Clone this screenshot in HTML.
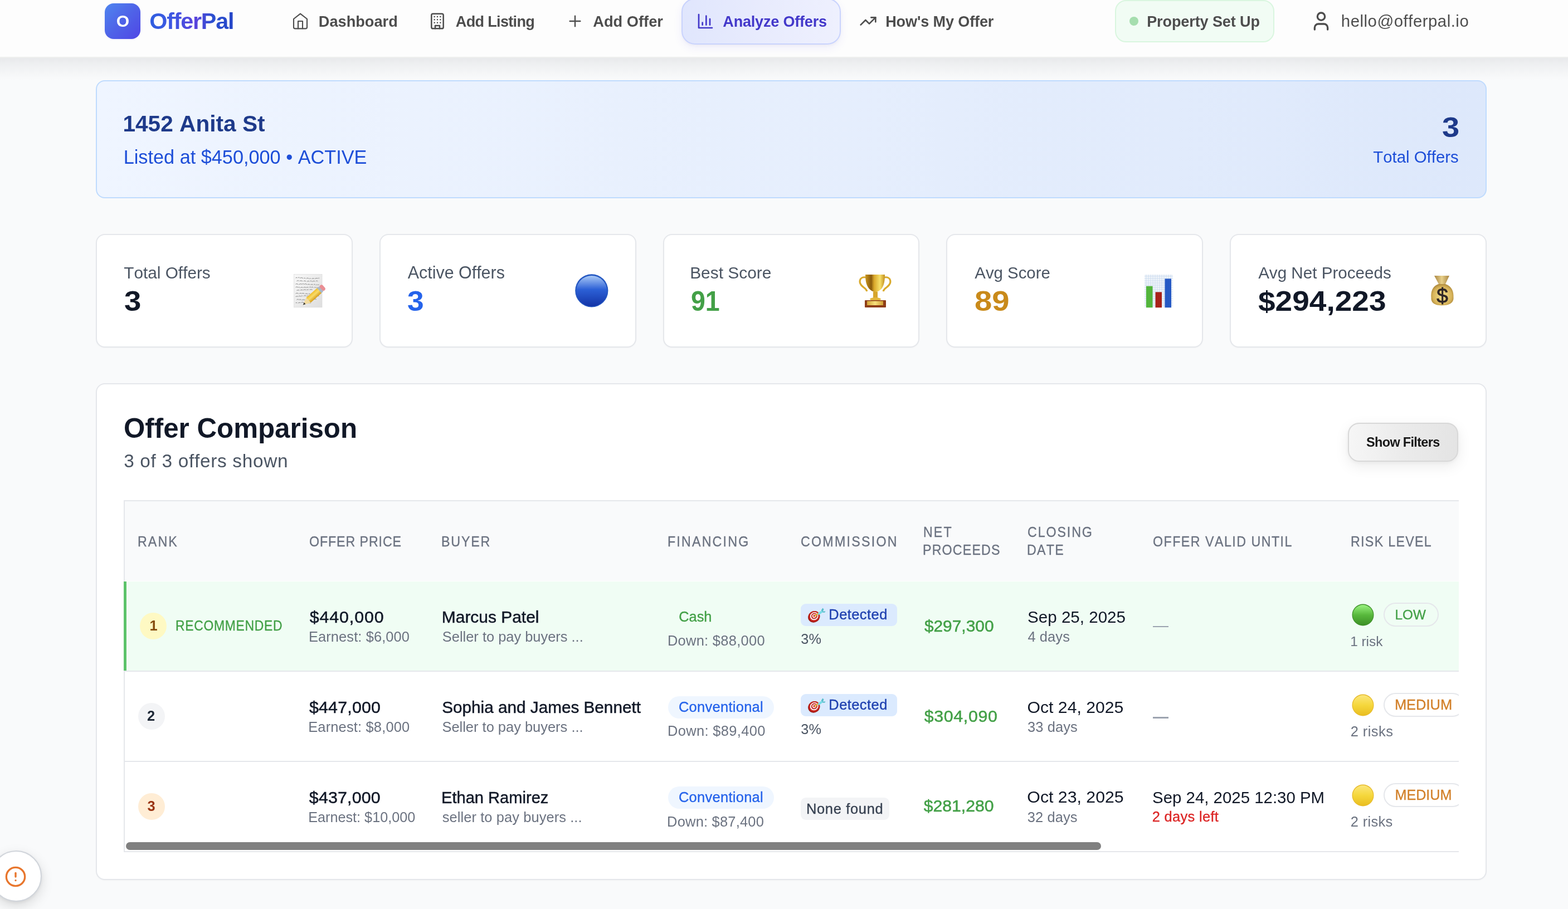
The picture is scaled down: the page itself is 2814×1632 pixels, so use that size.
<!DOCTYPE html><html><head><meta charset="utf-8"><title>OfferPal - Analyze Offers</title><style>
*{margin:0;padding:0;box-sizing:border-box}
html,body{width:2814px;height:1632px;overflow:hidden;background:#f9fafb}
body{position:relative;font-family:"Liberation Sans",Arial,sans-serif;font-kerning:none;-webkit-font-smoothing:antialiased}
.a{position:absolute}
.t{position:absolute;white-space:nowrap;font-family:"Liberation Sans",Arial,sans-serif}
svg{position:absolute;overflow:visible}
@media (max-width:2000px){html{zoom:0.5}}
</style></head><body><div class="a" style="left:0;top:104px;width:2814px;height:42px;background:linear-gradient(180deg,rgba(17,24,39,0.075) 0px,rgba(17,24,39,0.048) 11px,rgba(17,24,39,0.03) 20px,rgba(17,24,39,0.016) 29px,rgba(17,24,39,0.005) 36px,rgba(17,24,39,0) 42px)"></div>
<div class="a" style="left:0;top:0;width:2814px;height:104px;background:#fdfdfd;border-bottom:2px solid #eeefee"></div>
<div class="a" style="left:188px;top:6px;width:64px;height:64px;border-radius:16px;background:linear-gradient(135deg,#4f86ef 0%,#4f63e8 50%,#4f46e5 100%);box-shadow:0 1px 3px rgba(79,70,229,0.10)"></div>
<div id="logoO" class="t" style="left:208.77px;top:21.30px;font-size:30px;line-height:33px;font-weight:700;color:#ffffff;letter-spacing:0.000px;">O</div>
<div id="brand" class="t" style="left:268.31px;top:14.80px;font-size:41.32px;line-height:46px;font-weight:700;color:#2f5fe0;letter-spacing:-1.231px;background:linear-gradient(90deg,#2f5fe0 0%,#3f55e2 30%,#5a43dc 55%,#2b4fd0 75%,#2546c8 100%);-webkit-background-clip:text;background-clip:text;-webkit-text-fill-color:transparent;">OfferPal</div>
<div class="a" style="left:1223px;top:-3px;width:286px;height:83px;border-radius:24px;border:2px solid #c9d3fd;background:linear-gradient(90deg,#e0e6fd 0%,#e8ebfd 50%,#eef0fe 100%);box-shadow:0 6px 16px rgba(79,70,229,0.08),0 2px 4px rgba(0,0,0,0.03)"></div>
<div class="a" style="left:2001px;top:0px;width:286px;height:76px;border-radius:20px;border:2px solid #d9f6df;background:#f1fcf4"></div>
<div class="a" style="left:2027px;top:30px;width:16px;height:16px;border-radius:50%;background:#a5deae"></div>
<div id="nav1" class="t" style="left:571.78px;top:22.80px;font-size:27.19px;line-height:31px;font-weight:700;color:#4d4d4d;letter-spacing:-0.001px;">Dashboard</div>
<div id="nav2" class="t" style="left:817.83px;top:22.80px;font-size:27.07px;line-height:31px;font-weight:700;color:#4d4d4d;letter-spacing:-0.687px;">Add Listing</div>
<div id="nav3" class="t" style="left:1064.32px;top:22.80px;font-size:27.24px;line-height:31px;font-weight:700;color:#4d4d4d;letter-spacing:-0.001px;">Add Offer</div>
<div id="nav4" class="t" style="left:1297.33px;top:22.80px;font-size:27.07px;line-height:31px;font-weight:700;color:#4338ca;letter-spacing:-0.213px;">Analyze Offers</div>
<div id="nav5" class="t" style="left:1589.19px;top:22.80px;font-size:27.07px;line-height:31px;font-weight:700;color:#4d4d4d;letter-spacing:-0.133px;">How's My Offer</div>
<div id="nav6" class="t" style="left:2058.19px;top:23.00px;font-size:27.07px;line-height:31px;font-weight:700;color:#4d4d4d;letter-spacing:-0.118px;">Property Set Up</div>
<div id="email" class="t" style="left:2406.86px;top:20.70px;font-size:29.36px;line-height:33px;font-weight:400;color:#4d4d4d;letter-spacing:0.506px;">hello@offerpal.io</div>
<svg style="left:523.1px;top:21.8px" width="32" height="32" viewBox="0 0 24 24" fill="none" stroke-linecap="round" stroke-linejoin="round" stroke="#4d4d4d" stroke-width="1.6"><path d="m3 9 9-7 9 7v11a2 2 0 0 1-2 2H5a2 2 0 0 1-2-2z"/><polyline points="9 22 9 12 15 12 15 22"/></svg>
<svg style="left:769px;top:21.5px" width="32" height="32" viewBox="0 0 24 24" fill="none" stroke-linecap="round" stroke-linejoin="round" stroke="#4d4d4d" stroke-width="1.9"><rect x="4" y="2" width="16" height="20" rx="2" ry="2"/><path d="M9 22v-4h6v4"/><path d="M8 6h.01M16 6h.01M12 6h.01M12 10h.01M12 14h.01M16 10h.01M16 14h.01M8 10h.01M8 14h.01"/></svg>
<svg style="left:1015.7px;top:22px" width="32" height="32" viewBox="0 0 24 24" fill="none" stroke-linecap="round" stroke-linejoin="round" stroke="#4d4d4d" stroke-width="1.8"><path d="M5 12h14"/><path d="M12 5v14"/></svg>
<svg style="left:1249.8px;top:21.8px" width="32" height="32" viewBox="0 0 24 24" fill="none" stroke-linecap="round" stroke-linejoin="round" stroke="#4338ca" stroke-width="2"><path d="M3 3v18h18"/><path d="M18 17V9"/><path d="M13 17V5"/><path d="M8 17v-3"/></svg>
<svg style="left:1541.7px;top:22px" width="32" height="32" viewBox="0 0 24 24" fill="none" stroke-linecap="round" stroke-linejoin="round" stroke="#4d4d4d" stroke-width="2"><polyline points="22 7 13.5 15.5 8.5 10.5 2 17"/><polyline points="16 7 22 7 22 13"/></svg>
<svg style="left:2351.3px;top:17.7px" width="40" height="40" viewBox="0 0 24 24" fill="none" stroke-linecap="round" stroke-linejoin="round" stroke="#4d4d4d" stroke-width="2"><path d="M19 21v-2a4 4 0 0 0-4-4H9a4 4 0 0 0-4 4v2"/><circle cx="12" cy="7" r="4"/></svg>
<div class="a" style="left:172px;top:144px;width:2496px;height:212px;border-radius:16px;border:2px solid #bfdbfe;background:linear-gradient(90deg,#eff5ff 0%,#dde8fb 100%)"></div>
<div id="addr" class="t" style="left:220.44px;top:199.00px;font-size:40.61px;line-height:46px;font-weight:700;color:#1e3a8a;letter-spacing:0.001px;">1452 Anita St</div>
<div id="listed" class="t" style="left:221.69px;top:263.00px;font-size:34.27px;line-height:38px;font-weight:400;color:#1d4ed8;letter-spacing:-0.002px;">Listed at $450,000 • ACTIVE</div>
<div id="pc3" class="t" style="left:2587.51px;top:200.30px;font-size:50.4px;line-height:57px;font-weight:700;color:#1e3a8a;letter-spacing:0.000px;transform:scaleX(1.1137);transform-origin:0px 0;">3</div>
<div id="pcTot" class="t" style="left:2464.34px;top:265.40px;font-size:29.37px;line-height:33px;font-weight:400;color:#1d4ed8;letter-spacing:0.000px;">Total Offers</div>
<div class="a" style="left:172px;top:420px;width:461px;height:204px;border-radius:16px;border:2px solid #e5e7eb;background:#fff;box-shadow:0 1px 2px rgba(0,0,0,0.03)"></div>
<div id="sl0" class="t" style="left:222.33px;top:473.00px;font-size:29.76px;line-height:33px;font-weight:400;color:#4b5563;letter-spacing:-0.001px;">Total Offers</div>
<div id="sv0" class="t" style="left:222.65px;top:512.00px;font-size:50.7px;line-height:57px;font-weight:700;color:#111827;letter-spacing:0.000px;transform:scaleX(1.0753);transform-origin:0px 0;">3</div>
<div class="a" style="left:681px;top:420px;width:461px;height:204px;border-radius:16px;border:2px solid #e5e7eb;background:#fff;box-shadow:0 1px 2px rgba(0,0,0,0.03)"></div>
<div id="sl1" class="t" style="left:731.74px;top:472.00px;font-size:30.43px;line-height:34px;font-weight:400;color:#4b5563;letter-spacing:-0.001px;">Active Offers</div>
<div id="sv1" class="t" style="left:731.48px;top:512.00px;font-size:50.7px;line-height:57px;font-weight:700;color:#2563eb;letter-spacing:0.000px;transform:scaleX(1.0515);transform-origin:0px 0;">3</div>
<div class="a" style="left:1190px;top:420px;width:460px;height:204px;border-radius:16px;border:2px solid #e5e7eb;background:#fff;box-shadow:0 1px 2px rgba(0,0,0,0.03)"></div>
<div id="sl2" class="t" style="left:1238.14px;top:473.00px;font-size:29.93px;line-height:33px;font-weight:400;color:#4b5563;letter-spacing:-0.001px;">Best Score</div>
<div id="sv2" class="t" style="left:1239.89px;top:512.00px;font-size:50.7px;line-height:57px;font-weight:700;color:#43a047;letter-spacing:0.000px;transform:scaleX(0.9169);transform-origin:0px 0;">91</div>
<div class="a" style="left:1698px;top:420px;width:461px;height:204px;border-radius:16px;border:2px solid #e5e7eb;background:#fff;box-shadow:0 1px 2px rgba(0,0,0,0.03)"></div>
<div id="sl3" class="t" style="left:1749.34px;top:473.00px;font-size:29.39px;line-height:33px;font-weight:400;color:#4b5563;letter-spacing:-0.003px;">Avg Score</div>
<div id="sv3" class="t" style="left:1748.51px;top:512.00px;font-size:50.7px;line-height:57px;font-weight:700;color:#c98a1a;letter-spacing:0.000px;transform:scaleX(1.1096);transform-origin:0px 0;">89</div>
<div class="a" style="left:2207px;top:420px;width:461px;height:204px;border-radius:16px;border:2px solid #e5e7eb;background:#fff;box-shadow:0 1px 2px rgba(0,0,0,0.03)"></div>
<div id="sl4" class="t" style="left:2258.14px;top:473.00px;font-size:29.61px;line-height:33px;font-weight:400;color:#4b5563;letter-spacing:-0.001px;">Avg Net Proceeds</div>
<div id="sv4" class="t" style="left:2258.37px;top:512.00px;font-size:50.7px;line-height:57px;font-weight:700;color:#111827;letter-spacing:0.000px;transform:scaleX(1.0858);transform-origin:0px 0;">$294,223</div>
<div class="a" style="left:172px;top:688px;width:2496px;height:892px;border-radius:16px;border:2px solid #e5e7eb;background:#fff;box-shadow:0 1px 2px rgba(0,0,0,0.03)"></div>
<div id="ocTitle" class="t" style="left:221.98px;top:741.00px;font-size:49.3px;line-height:55px;font-weight:700;color:#111827;letter-spacing:-0.001px;">Offer Comparison</div>
<div id="ocSub" class="t" style="left:222.13px;top:808.60px;font-size:33.37px;line-height:37px;font-weight:400;color:#4b5563;letter-spacing:0.699px;">3 of 3 offers shown</div>
<div class="a" style="left:2419px;top:759px;width:198px;height:70px;border-radius:20px;border:2px solid #d8d8d8;background:linear-gradient(90deg,#f6f6f6 0%,#ebebeb 50%,#e4e4e4 100%);box-shadow:0 8px 26px rgba(0,0,0,0.08),0 2px 6px rgba(0,0,0,0.04)"></div>
<div id="sf" class="t" style="left:2452.12px;top:781.20px;font-size:23.46px;line-height:26px;font-weight:700;color:#171717;letter-spacing:-0.667px;">Show Filters</div>
<div class="a" style="left:222px;top:898px;width:2396px;height:632px;overflow:hidden">
<div class="a" style="left:0px;top:0px;width:2600px;height:2px;background:#e5e7eb"></div>
<div class="a" style="left:0px;top:0px;width:2px;height:632px;background:#e5e7eb"></div>
<div class="a" style="left:2px;top:2px;width:2600px;height:143px;background:#f9fafb"></div>
<div class="a" style="left:6px;top:146px;width:2600px;height:160px;background:#f0fdf4"></div>
<div class="a" style="left:0px;top:146px;width:5px;height:160px;background:#5cc36a"></div>
<div class="a" style="left:2px;top:306px;width:2600px;height:2px;background:#e5e7eb"></div>
<div class="a" style="left:2px;top:468px;width:2600px;height:2px;background:#e5e7eb"></div>
<div class="a" style="left:2px;top:630px;width:2600px;height:2px;background:#e5e7eb"></div>
<div id="h1" class="t" style="left:25.30px;top:59.60px;font-size:25.8px;line-height:28px;font-weight:400;color:#6b7280;letter-spacing:2.316px;-webkit-text-stroke:0.35px currentColor;transform:scaleX(0.9);transform-origin:0 0;">RANK</div>
<div id="h2" class="t" style="left:332.50px;top:59.60px;font-size:25.8px;line-height:28px;font-weight:400;color:#6b7280;letter-spacing:1.000px;-webkit-text-stroke:0.35px currentColor;transform:scaleX(0.9);transform-origin:0 0;">OFFER PRICE</div>
<div id="h3" class="t" style="left:570.00px;top:59.60px;font-size:25.8px;line-height:28px;font-weight:400;color:#6b7280;letter-spacing:2.050px;-webkit-text-stroke:0.35px currentColor;transform:scaleX(0.9);transform-origin:0 0;">BUYER</div>
<div id="h4" class="t" style="left:975.50px;top:59.60px;font-size:25.8px;line-height:28px;font-weight:400;color:#6b7280;letter-spacing:2.435px;-webkit-text-stroke:0.35px currentColor;transform:scaleX(0.9);transform-origin:0 0;">FINANCING</div>
<div id="h5" class="t" style="left:1215.12px;top:59.60px;font-size:25.8px;line-height:28px;font-weight:400;color:#6b7280;letter-spacing:2.512px;-webkit-text-stroke:0.35px currentColor;transform:scaleX(0.9);transform-origin:0 0;">COMMISSION</div>
<div id="h6a" class="t" style="left:1435.00px;top:43.20px;font-size:25.8px;line-height:28px;font-weight:400;color:#6b7280;letter-spacing:2.332px;-webkit-text-stroke:0.35px currentColor;transform:scaleX(0.9);transform-origin:0 0;">NET</div>
<div id="h6b" class="t" style="left:1434.40px;top:74.80px;font-size:25.8px;line-height:28px;font-weight:400;color:#6b7280;letter-spacing:1.310px;-webkit-text-stroke:0.35px currentColor;transform:scaleX(0.9);transform-origin:0 0;">PROCEEDS</div>
<div id="h7a" class="t" style="left:1621.82px;top:43.20px;font-size:25.8px;line-height:28px;font-weight:400;color:#6b7280;letter-spacing:2.111px;-webkit-text-stroke:0.35px currentColor;transform:scaleX(0.9);transform-origin:0 0;">CLOSING</div>
<div id="h7b" class="t" style="left:1621.20px;top:74.80px;font-size:25.8px;line-height:28px;font-weight:400;color:#6b7280;letter-spacing:1.398px;-webkit-text-stroke:0.35px currentColor;transform:scaleX(0.9);transform-origin:0 0;">DATE</div>
<div id="h8" class="t" style="left:1846.60px;top:59.60px;font-size:25.8px;line-height:28px;font-weight:400;color:#6b7280;letter-spacing:1.645px;-webkit-text-stroke:0.35px currentColor;transform:scaleX(0.9);transform-origin:0 0;">OFFER VALID UNTIL</div>
<div id="h9" class="t" style="left:2202.10px;top:59.60px;font-size:25.8px;line-height:28px;font-weight:400;color:#6b7280;letter-spacing:1.462px;-webkit-text-stroke:0.35px currentColor;transform:scaleX(0.9);transform-origin:0 0;">RISK LEVEL</div>
<div class="a" style="left:29px;top:202px;width:48px;height:48px;border-radius:50%;background:#fef9c3"></div>
<div id="r0rk" class="t" style="left:46.60px;top:211.00px;font-size:25.4px;line-height:28px;font-weight:700;color:#854d0e;letter-spacing:0.000px;">1</div>
<div id="r0rec" class="t" style="left:92.62px;top:211.00px;font-size:25.4px;line-height:28px;font-weight:400;color:#43a047;letter-spacing:0.813px;-webkit-text-stroke:0.35px currentColor;transform:scaleX(0.9);transform-origin:0 0;">RECOMMENDED</div>
<div id="r0p" class="t" style="left:333.77px;top:191.80px;font-size:30.39px;line-height:34px;font-weight:400;color:#111827;letter-spacing:0.880px;-webkit-text-stroke:0.5px currentColor;">$440,000</div>
<div id="r0e" class="t" style="left:331.91px;top:230.80px;font-size:25.44px;line-height:28px;font-weight:400;color:#6b7280;letter-spacing:0.104px;">Earnest: $6,000</div>
<div id="r0n" class="t" style="left:570.84px;top:192.80px;font-size:29.93px;line-height:33px;font-weight:400;color:#111827;letter-spacing:0.000px;-webkit-text-stroke:0.5px currentColor;">Marcus Patel</div>
<div id="r0no" class="t" style="left:571.85px;top:230.80px;font-size:25.43px;line-height:28px;font-weight:400;color:#6b7280;letter-spacing:-0.001px;">Seller to pay buyers ...</div>
<div id="r0f" class="t" style="left:996.31px;top:194.60px;font-size:25.33px;line-height:28px;font-weight:400;color:#43a047;letter-spacing:-0.000px;-webkit-text-stroke:0.35px currentColor;">Cash</div>
<div id="r0d" class="t" style="left:975.91px;top:238.40px;font-size:25.44px;line-height:28px;font-weight:400;color:#6b7280;letter-spacing:0.295px;">Down: $88,000</div>
<div class="a" style="left:1215px;top:186px;width:173px;height:40px;border-radius:9px;background:#dbeafe"></div>
<svg style="left:1227.0px;top:192.0px" width="34" height="30" viewBox="0 0 34 30"><g transform="rotate(-35 11.8 17.3)"><ellipse cx="11.8" cy="17.3" rx="11" ry="10" fill="#9c1712"/><ellipse cx="12.6" cy="16.8" rx="10" ry="9.2" fill="#c9261f"/><ellipse cx="12.8" cy="16.6" rx="7.6" ry="7" fill="#f5efee"/><ellipse cx="13" cy="16.5" rx="5.6" ry="5.2" fill="#c8261f"/><ellipse cx="13.1" cy="16.4" rx="3.6" ry="3.3" fill="#f6f1f0"/><ellipse cx="13.2" cy="16.3" rx="1.9" ry="1.8" fill="#c21f18"/></g><path d="M13.5 16 L19.5 11.5" stroke="#e4b23a" stroke-width="2.2" stroke-linecap="round"/><path d="M18.5 12.5 C20 9 23 7.5 26 6.5 L27.5 8.5 C26 11 23 13 20 14 Z" fill="#79dde8"/><path d="M24.5 6 L27.5 1.5 L29.5 4 L27.5 8 Z" fill="#56bdc9"/><path d="M26.5 7.5 L32.5 7.5 L31 9.8 L27 9.5 Z" fill="#56bdc9"/></svg>
<div id="r0det" class="t" style="left:1265.31px;top:191.00px;font-size:25.44px;line-height:28px;font-weight:400;color:#1e40af;letter-spacing:0.458px;-webkit-text-stroke:0.35px currentColor;">Detected</div>
<div id="r0pct" class="t" style="left:1215.34px;top:234.80px;font-size:25.3px;line-height:28px;font-weight:400;color:#4b5563;letter-spacing:-0.001px;">3%</div>
<div id="r0net" class="t" style="left:1436.88px;top:208.90px;font-size:29.89px;line-height:33px;font-weight:400;color:#43a047;letter-spacing:0.003px;-webkit-text-stroke:0.5px currentColor;">$297,300</div>
<div id="r0dt" class="t" style="left:1622.06px;top:192.80px;font-size:29.58px;line-height:33px;font-weight:400;color:#111827;letter-spacing:-0.001px;">Sep 25, 2025</div>
<div id="r0dy" class="t" style="left:1622.42px;top:231.00px;font-size:25.44px;line-height:28px;font-weight:400;color:#6b7280;letter-spacing:0.110px;">4 days</div>
<div class="a" style="left:1846.6px;top:225.79999999999995px;width:28px;height:2.5px;background:#9ca3af"></div>
<svg style="left:2204.0px;top:186.0px" width="40" height="40" viewBox="0 0 40 40"><defs><linearGradient id="g1" x1="0" y1="0" x2="0" y2="1"><stop offset="0" stop-color="#98f27f"/><stop offset="0.5" stop-color="#58b83c"/><stop offset="1" stop-color="#3c8f26"/></linearGradient></defs><circle cx="20" cy="20" r="19.5" fill="#3f8f2a"/><circle cx="20" cy="20.3" r="18.3" fill="url(#g1)"/></svg>
<div class="a" style="left:2261.3px;top:184.20000000000005px;width:98.39999999999964px;height:43.299999999999955px;border-radius:22px;border:2px solid #e5e7eb"></div>
<div id="r0rl" class="t" style="left:2281.61px;top:192.20px;font-size:24.22px;line-height:27px;font-weight:400;color:#43a047;letter-spacing:0.000px;-webkit-text-stroke:0.35px currentColor;">LOW</div>
<div id="r0nr" class="t" style="left:2201.14px;top:239.70px;font-size:24.41px;line-height:27px;font-weight:400;color:#6b7280;letter-spacing:0.001px;">1 risk</div>
<div class="a" style="left:26px;top:364px;width:48px;height:48px;border-radius:50%;background:#f3f4f6"></div>
<div id="r1rk" class="t" style="left:42.12px;top:372.90px;font-size:25.4px;line-height:28px;font-weight:700;color:#1f2937;letter-spacing:0.000px;">2</div>
<div id="r1p" class="t" style="left:332.97px;top:354.40px;font-size:30.39px;line-height:34px;font-weight:400;color:#111827;letter-spacing:0.180px;-webkit-text-stroke:0.5px currentColor;">$447,000</div>
<div id="r1e" class="t" style="left:331.21px;top:392.60px;font-size:25.44px;line-height:28px;font-weight:400;color:#6b7280;letter-spacing:0.169px;">Earnest: $8,000</div>
<div id="r1n" class="t" style="left:571.25px;top:355.00px;font-size:29.71px;line-height:33px;font-weight:400;color:#111827;letter-spacing:0.000px;-webkit-text-stroke:0.5px currentColor;">Sophia and James Bennett</div>
<div id="r1no" class="t" style="left:571.44px;top:392.80px;font-size:25.44px;line-height:28px;font-weight:400;color:#6b7280;letter-spacing:0.003px;">Seller to pay buyers ...</div>
<div class="a" style="left:977px;top:352px;width:190px;height:40px;border-radius:20px;background:#eff6ff"></div>
<div id="r1f" class="t" style="left:995.91px;top:357.40px;font-size:25.44px;line-height:28px;font-weight:400;color:#2563eb;letter-spacing:0.299px;-webkit-text-stroke:0.35px currentColor;">Conventional</div>
<div id="r1d" class="t" style="left:975.91px;top:400.30px;font-size:25.44px;line-height:28px;font-weight:400;color:#6b7280;letter-spacing:0.370px;">Down: $89,400</div>
<div class="a" style="left:1215px;top:348px;width:173px;height:40px;border-radius:9px;background:#dbeafe"></div>
<svg style="left:1227.0px;top:354.0px" width="34" height="30" viewBox="0 0 34 30"><g transform="rotate(-35 11.8 17.3)"><ellipse cx="11.8" cy="17.3" rx="11" ry="10" fill="#9c1712"/><ellipse cx="12.6" cy="16.8" rx="10" ry="9.2" fill="#c9261f"/><ellipse cx="12.8" cy="16.6" rx="7.6" ry="7" fill="#f5efee"/><ellipse cx="13" cy="16.5" rx="5.6" ry="5.2" fill="#c8261f"/><ellipse cx="13.1" cy="16.4" rx="3.6" ry="3.3" fill="#f6f1f0"/><ellipse cx="13.2" cy="16.3" rx="1.9" ry="1.8" fill="#c21f18"/></g><path d="M13.5 16 L19.5 11.5" stroke="#e4b23a" stroke-width="2.2" stroke-linecap="round"/><path d="M18.5 12.5 C20 9 23 7.5 26 6.5 L27.5 8.5 C26 11 23 13 20 14 Z" fill="#79dde8"/><path d="M24.5 6 L27.5 1.5 L29.5 4 L27.5 8 Z" fill="#56bdc9"/><path d="M26.5 7.5 L32.5 7.5 L31 9.8 L27 9.5 Z" fill="#56bdc9"/></svg>
<div id="r1det" class="t" style="left:1265.31px;top:353.00px;font-size:25.44px;line-height:28px;font-weight:400;color:#1e40af;letter-spacing:0.458px;-webkit-text-stroke:0.35px currentColor;">Detected</div>
<div id="r1pct" class="t" style="left:1215.34px;top:397.00px;font-size:25.3px;line-height:28px;font-weight:400;color:#4b5563;letter-spacing:-0.001px;">3%</div>
<div id="r1net" class="t" style="left:1436.67px;top:369.70px;font-size:30.39px;line-height:34px;font-weight:400;color:#43a047;letter-spacing:0.651px;-webkit-text-stroke:0.5px currentColor;">$304,090</div>
<div id="r1dt" class="t" style="left:1621.57px;top:354.70px;font-size:30.16px;line-height:33px;font-weight:400;color:#111827;letter-spacing:-0.000px;">Oct 24, 2025</div>
<div id="r1dy" class="t" style="left:1622.03px;top:393.00px;font-size:25.44px;line-height:28px;font-weight:400;color:#6b7280;letter-spacing:0.098px;">33 days</div>
<div class="a" style="left:1846.6px;top:389.29999999999995px;width:28px;height:2.5px;background:#9ca3af"></div>
<svg style="left:2204.0px;top:348.0px" width="40" height="40" viewBox="0 0 40 40"><defs><linearGradient id="g2" x1="0" y1="0" x2="0" y2="1"><stop offset="0" stop-color="#fbe67a"/><stop offset="0.5" stop-color="#f5d73c"/><stop offset="1" stop-color="#e9bd20"/></linearGradient></defs><circle cx="20" cy="20" r="19.5" fill="#e6b92a"/><circle cx="20" cy="20.3" r="18.3" fill="url(#g2)"/></svg>
<div class="a" style="left:2261.3px;top:346.29999999999995px;width:144.69999999999982px;height:43.0px;border-radius:22px;border:2px solid #e5e7eb"></div>
<div id="r1rl" class="t" style="left:2280.91px;top:353.40px;font-size:25.44px;line-height:28px;font-weight:400;color:#d2802a;letter-spacing:0.002px;-webkit-text-stroke:0.35px currentColor;">MEDIUM</div>
<div id="r1nr" class="t" style="left:2201.72px;top:401.00px;font-size:25.44px;line-height:28px;font-weight:400;color:#6b7280;letter-spacing:0.450px;">2 risks</div>
<div class="a" style="left:26px;top:526px;width:48px;height:48px;border-radius:50%;background:#ffedd5"></div>
<div id="r2rk" class="t" style="left:42.42px;top:535.00px;font-size:25.4px;line-height:28px;font-weight:700;color:#9a3412;letter-spacing:0.000px;">3</div>
<div id="r2p" class="t" style="left:332.87px;top:516.40px;font-size:30.39px;line-height:34px;font-weight:400;color:#111827;letter-spacing:0.166px;-webkit-text-stroke:0.5px currentColor;">$437,000</div>
<div id="r2e" class="t" style="left:331.13px;top:554.50px;font-size:25.24px;line-height:28px;font-weight:400;color:#6b7280;letter-spacing:0.001px;">Earnest: $10,000</div>
<div id="r2n" class="t" style="left:570.01px;top:518.00px;font-size:29.1px;line-height:32px;font-weight:400;color:#111827;letter-spacing:-0.002px;-webkit-text-stroke:0.5px currentColor;">Ethan Ramirez</div>
<div id="r2no" class="t" style="left:571.69px;top:554.80px;font-size:25.44px;line-height:28px;font-weight:400;color:#6b7280;letter-spacing:0.090px;">seller to pay buyers ...</div>
<div class="a" style="left:977px;top:514px;width:189.5px;height:40px;border-radius:20px;background:#eff6ff"></div>
<div id="r2f" class="t" style="left:995.91px;top:519.40px;font-size:25.44px;line-height:28px;font-weight:400;color:#2563eb;letter-spacing:0.299px;-webkit-text-stroke:0.35px currentColor;">Conventional</div>
<div id="r2d" class="t" style="left:975.11px;top:563.00px;font-size:25.44px;line-height:28px;font-weight:400;color:#6b7280;letter-spacing:0.212px;">Down: $87,400</div>
<div class="a" style="left:1215.3px;top:534px;width:158.70000000000005px;height:40px;border-radius:9px;background:#f3f4f6"></div>
<div id="r2none" class="t" style="left:1224.91px;top:540.00px;font-size:25.44px;line-height:28px;font-weight:400;color:#374151;letter-spacing:0.687px;-webkit-text-stroke:0.35px currentColor;">None found</div>
<div id="r2net" class="t" style="left:1435.68px;top:532.00px;font-size:30.21px;line-height:33px;font-weight:400;color:#43a047;letter-spacing:0.000px;-webkit-text-stroke:0.5px currentColor;">$281,280</div>
<div id="r2dt" class="t" style="left:1621.37px;top:516.30px;font-size:30.28px;line-height:33px;font-weight:400;color:#111827;letter-spacing:0.002px;">Oct 23, 2025</div>
<div id="r2dy" class="t" style="left:1621.83px;top:554.90px;font-size:25.44px;line-height:28px;font-weight:400;color:#6b7280;letter-spacing:0.081px;">32 days</div>
<div id="r2v" class="t" style="left:1846.06px;top:517.40px;font-size:29.41px;line-height:33px;font-weight:400;color:#111827;letter-spacing:0.001px;">Sep 24, 2025 12:30 PM</div>
<div id="r2v2" class="t" style="left:1845.72px;top:553.70px;font-size:25.44px;line-height:28px;font-weight:400;color:#dc2626;letter-spacing:0.321px;-webkit-text-stroke:0.35px currentColor;">2 days left</div>
<svg style="left:2204.0px;top:510.0px" width="40" height="40" viewBox="0 0 40 40"><defs><linearGradient id="g3" x1="0" y1="0" x2="0" y2="1"><stop offset="0" stop-color="#fbe67a"/><stop offset="0.5" stop-color="#f5d73c"/><stop offset="1" stop-color="#e9bd20"/></linearGradient></defs><circle cx="20" cy="20" r="19.5" fill="#e6b92a"/><circle cx="20" cy="20.3" r="18.3" fill="url(#g3)"/></svg>
<div class="a" style="left:2261.3px;top:508.20000000000005px;width:144.69999999999982px;height:43.299999999999955px;border-radius:22px;border:2px solid #e5e7eb"></div>
<div id="r2rl" class="t" style="left:2281.44px;top:514.90px;font-size:25.16px;line-height:28px;font-weight:400;color:#d2802a;letter-spacing:-0.000px;-webkit-text-stroke:0.35px currentColor;">MEDIUM</div>
<div id="r2nr" class="t" style="left:2201.72px;top:562.70px;font-size:25.44px;line-height:28px;font-weight:400;color:#6b7280;letter-spacing:0.350px;">2 risks</div>
<div class="a" style="left:4px;top:614px;width:1750px;height:14px;border-radius:7px;background:#808080"></div>
</div>
<svg style="left:522px;top:488px" width="64" height="68" viewBox="0 0 64 68"><defs><linearGradient id="mp" x1="0" y1="0" x2="1" y2="1"><stop offset="0" stop-color="#f7f7f7"/><stop offset="1" stop-color="#dedede"/></linearGradient><linearGradient id="mpen" x1="0" y1="0" x2="1" y2="0"><stop offset="0" stop-color="#f0be2a"/><stop offset="0.45" stop-color="#f8dc6a"/><stop offset="1" stop-color="#d79e1c"/></linearGradient></defs><rect x="5.6" y="4.6" width="50.4" height="59.2" fill="url(#mp)" stroke="#d6d6d6" stroke-width="0.6"/><path d="M8.5,11.0 q1.6,-1.4 3.2,-0.2 m1.3,0 q1.3,-2.2 2.7,0.4 m0.8,0 q2.7,-1.5 5.5,0.4 m1.3,0 q1.5,-1.3 3.0,0.4 m1.5,0 q2.3,-2.1 4.5,0.3 m0.9,0 q1.3,-1.0 2.6,-0.0 m1.6,0 q2.3,-0.9 4.6,-0.1 m1.1,0 q2.7,-1.0 5.3,-0.5 m0.8,0 q1.0,-1.6 1.9,0.2" stroke="#4a4a4a" stroke-width="0.75" fill="none" opacity="0.8"/><path d="M10.5,16.6 q2.0,-1.7 4.0,-0.2 m1.3,0 q2.6,-1.2 5.2,0.5 m1.8,0 q2.3,-2.0 4.5,0.4 m1.7,0 q2.1,-1.2 4.2,-0.3 m1.2,0 q1.7,-2.1 3.4,0.4 m0.6,0 q2.5,-1.6 4.9,-0.4 m1.5,0 q1.8,-2.1 3.5,0.1" stroke="#4a4a4a" stroke-width="0.75" fill="none" opacity="0.8"/><path d="M8.5,22.2 q2.3,-1.7 4.7,0.5 m1.2,0 q2.7,-1.8 5.5,-0.5 m0.5,0 q1.5,-1.6 3.1,0.1 m0.6,0 q2.6,-1.8 5.1,0.6 m1.0,0 q1.9,-1.5 3.9,0.2 m1.2,0 q2.2,-0.9 4.4,0.0 m1.4,0 q1.6,-1.8 3.2,0.6 m1.2,0 q1.3,-1.6 2.5,0.1 m1.3,0 q0.4,-2.1 0.9,0.2" stroke="#4a4a4a" stroke-width="0.75" fill="none" opacity="0.8"/><path d="M8.5,27.8 q2.3,-1.7 4.5,0.2 m0.5,0 q1.3,-1.3 2.7,0.6 m1.1,0 q2.1,-1.8 4.3,-0.2 m1.0,0 q2.1,-1.8 4.3,-0.1 m0.5,0 q2.1,-1.2 4.2,-0.2 m1.5,0 q1.6,-1.9 3.2,-0.1 m0.6,0 q1.7,-1.7 3.5,0.4 m1.6,0 q1.5,-1.7 3.0,0.2 m1.1,0 q0.7,-2.0 1.3,0.0" stroke="#4a4a4a" stroke-width="0.75" fill="none" opacity="0.8"/><path d="M10.5,33.4 q2.5,-1.0 4.9,-0.4 m1.5,0 q2.2,-1.1 4.4,-0.2 m0.9,0 q2.4,-1.8 4.9,-0.2 m1.0,0 q1.9,-0.9 3.7,-0.4 m1.7,0 q2.6,-0.8 5.1,-0.1" stroke="#4a4a4a" stroke-width="0.75" fill="none" opacity="0.8"/><path d="M8.5,39.0 q2.6,-1.9 5.3,0.3 m1.4,0 q2.0,-1.8 4.1,-0.2 m0.6,0 q2.1,-1.8 4.3,0.4 m1.7,0 q2.3,-0.9 4.6,0.5 m1.3,0 q1.3,-1.2 2.5,-0.4 m1.4,0 q2.0,-1.6 4.1,0.5 m0.9,0 q1.6,-1.0 3.3,-0.0 m1.0,0 q1.5,-1.5 3.1,0.4 m1.5,0 q0.3,-1.1 0.5,0.4" stroke="#4a4a4a" stroke-width="0.75" fill="none" opacity="0.8"/><path d="M8.5,44.6 q2.2,-1.0 4.4,-0.5 m0.8,0 q2.0,-1.6 4.1,-0.0 m0.5,0 q1.3,-2.0 2.7,-0.5 m1.8,0 q2.5,-2.1 5.1,0.0 m0.9,0 q1.8,-1.3 3.6,0.1 m0.7,0 q1.7,-2.0 3.5,0.1 m1.0,0 q1.4,-2.0 2.7,-0.2 m1.5,0 q1.8,-1.1 3.6,0.1 m1.0,0 q2.0,-1.2 4.0,-0.1" stroke="#4a4a4a" stroke-width="0.75" fill="none" opacity="0.8"/><path d="M10.5,50.2 q1.9,-1.9 3.9,0.0 m0.6,0 q1.9,-1.6 3.8,0.5 m1.0,0 q2.6,-1.1 5.2,-0.3 m0.7,0 q2.5,-1.3 4.9,0.5 m1.4,0 q2.4,-1.4 4.7,-0.5 m0.5,0 q1.5,-1.1 2.9,-0.5 m0.6,0 q2.6,-1.9 5.1,-0.6" stroke="#4a4a4a" stroke-width="0.75" fill="none" opacity="0.8"/><path d="M8.5,55.8 q1.4,-1.0 2.9,0.2 m1.7,0 q2.1,-1.1 4.2,-0.6 m1.2,0 q2.3,-2.1 4.6,0.3 m0.6,0 q1.7,-1.4 3.5,0.4 m0.7,0 q1.6,-1.3 3.2,0.3 m1.0,0 q1.8,-1.7 3.7,-0.1" stroke="#4a4a4a" stroke-width="0.75" fill="none" opacity="0.8"/><g transform="translate(40.5,43) rotate(48.5)"><rect x="-6" y="-25" width="12" height="7" rx="3.5" fill="#e98e93"/><rect x="-6" y="-18.5" width="12" height="5" fill="#a9b9c9"/><rect x="-6" y="-14" width="12" height="26" fill="url(#mpen)"/><path d="M-6 12 L6 12 L0 25 Z" fill="#f3dca0"/><path d="M-2 20.5 L2 20.5 L0 25 Z" fill="#333"/></g></svg>
<svg style="left:1032px;top:492.3px" width="60" height="60" viewBox="0 0 60 60"><defs><linearGradient id="bc" x1="0" y1="0" x2="0" y2="1"><stop offset="0" stop-color="#a9c9f6"/><stop offset="0.45" stop-color="#2c60d6"/><stop offset="1" stop-color="#1333a6"/></linearGradient></defs><circle cx="29.8" cy="29.8" r="29.6" fill="#2558c2"/><circle cx="29.8" cy="30.6" r="27.6" fill="url(#bc)"/></svg>
<svg style="left:1540px;top:490px" width="62" height="64" viewBox="0 0 62 64"><defs><linearGradient id="tg" x1="0" y1="0" x2="1" y2="0"><stop offset="0" stop-color="#c9961f"/><stop offset="0.3" stop-color="#8a5a0c"/><stop offset="0.45" stop-color="#d9a72a"/><stop offset="0.75" stop-color="#f7e06a"/><stop offset="1" stop-color="#c28f1e"/></linearGradient><linearGradient id="tp" x1="0" y1="0" x2="1" y2="0"><stop offset="0" stop-color="#d4a537"/><stop offset="0.5" stop-color="#f7e07c"/><stop offset="1" stop-color="#d0a035"/></linearGradient></defs><path d="M14,8 C2,6 -1,18 10,26 C13,28 15,30 16,33" stroke="#d9aa2c" stroke-width="3.2" fill="none"/><path d="M47,8 C59,6 62,18 51,26 C48,28 46,30 45,33" stroke="#d9aa2c" stroke-width="3.2" fill="none"/><path d="M13,3 L48,3 C48,22 44,31 31,35 C18,31 13,22 13,3 Z" fill="url(#tg)"/><rect x="27" y="34" width="8" height="12" fill="#d6a52c"/><ellipse cx="31" cy="47" rx="10" ry="3" fill="#e3b63c"/><rect x="12" y="49" width="38" height="13" rx="1" fill="#8e3d18"/><rect x="16" y="50.5" width="29" height="7.5" fill="url(#tp)"/></svg>
<svg style="left:2054px;top:492.6px" width="51" height="59.2" viewBox="0 0 51 59.2"><rect width="51" height="59.2" fill="#f1f5fa"/><path d="M3,0 V59" stroke="#c9dbef" stroke-width="0.8"/><path d="M7,0 V59" stroke="#c9dbef" stroke-width="0.8"/><path d="M11,0 V59" stroke="#c9dbef" stroke-width="0.8"/><path d="M15,0 V59" stroke="#c9dbef" stroke-width="0.8"/><path d="M19,0 V59" stroke="#c9dbef" stroke-width="0.8"/><path d="M23,0 V59" stroke="#c9dbef" stroke-width="0.8"/><path d="M27,0 V59" stroke="#c9dbef" stroke-width="0.8"/><path d="M31,0 V59" stroke="#c9dbef" stroke-width="0.8"/><path d="M35,0 V59" stroke="#c9dbef" stroke-width="0.8"/><path d="M39,0 V59" stroke="#c9dbef" stroke-width="0.8"/><path d="M43,0 V59" stroke="#c9dbef" stroke-width="0.8"/><path d="M47,0 V59" stroke="#c9dbef" stroke-width="0.8"/><path d="M0,3 H51" stroke="#c9dbef" stroke-width="0.8"/><path d="M0,7 H51" stroke="#c9dbef" stroke-width="0.8"/><path d="M0,11 H51" stroke="#c9dbef" stroke-width="0.8"/><path d="M0,15 H51" stroke="#c9dbef" stroke-width="0.8"/><path d="M0,19 H51" stroke="#c9dbef" stroke-width="0.8"/><path d="M0,23 H51" stroke="#c9dbef" stroke-width="0.8"/><path d="M0,27 H51" stroke="#c9dbef" stroke-width="0.8"/><path d="M0,31 H51" stroke="#c9dbef" stroke-width="0.8"/><path d="M0,35 H51" stroke="#c9dbef" stroke-width="0.8"/><path d="M0,39 H51" stroke="#c9dbef" stroke-width="0.8"/><path d="M0,43 H51" stroke="#c9dbef" stroke-width="0.8"/><path d="M0,47 H51" stroke="#c9dbef" stroke-width="0.8"/><path d="M0,51 H51" stroke="#c9dbef" stroke-width="0.8"/><path d="M0,55 H51" stroke="#c9dbef" stroke-width="0.8"/><rect x="3" y="20.7" width="11.5" height="38.5" fill="#53b53c"/><rect x="19.6" y="31.4" width="11.4" height="27.8" fill="#a82219"/><rect x="36.5" y="7.4" width="11.5" height="51.8" fill="#2659c4"/></svg>
<svg style="left:2564px;top:490px" width="48" height="62" viewBox="0 0 48 62"><defs><radialGradient id="mb" cx="0.5" cy="0.55" r="0.6"><stop offset="0" stop-color="#f6e391"/><stop offset="0.7" stop-color="#d8b45a"/><stop offset="1" stop-color="#a27d33"/></radialGradient><linearGradient id="mn" x1="0" y1="0" x2="1" y2="0"><stop offset="0" stop-color="#a98542"/><stop offset="0.5" stop-color="#e8d08a"/><stop offset="1" stop-color="#a98542"/></linearGradient></defs><path d="M10,5 L37,5 L30,20 L18,20 Z" fill="url(#mn)"/><path d="M18,20 C6,24 4,34 4.5,44 C4,52 8,58 24,58.5 C40,58 45,52 44.5,44 C45,34 42,24 30,20 Z" fill="url(#mb)"/><text x="24.5" y="54" text-anchor="middle" font-family="Liberation Sans,Arial,sans-serif" font-weight="400" font-size="37" fill="#2f2626" stroke="#2f2626" stroke-width="0.8">$</text></svg>
<div class="a" style="left:-17.4px;top:1527.3px;width:92px;height:92px;border-radius:50%;background:#fff;border:2px solid #d1d5db;box-shadow:0 8px 22px rgba(0,0,0,0.13),0 2px 5px rgba(0,0,0,0.06)"></div>
<svg style="left:8px;top:1554px" width="40" height="40" viewBox="0 0 24 24" fill="none" stroke="#e8762d" stroke-width="2" stroke-linecap="round" stroke-linejoin="round"><circle cx="12" cy="12" r="10"/><line x1="12" x2="12" y1="8" y2="12"/><line x1="12" x2="12.01" y1="16" y2="16"/></svg></body></html>
